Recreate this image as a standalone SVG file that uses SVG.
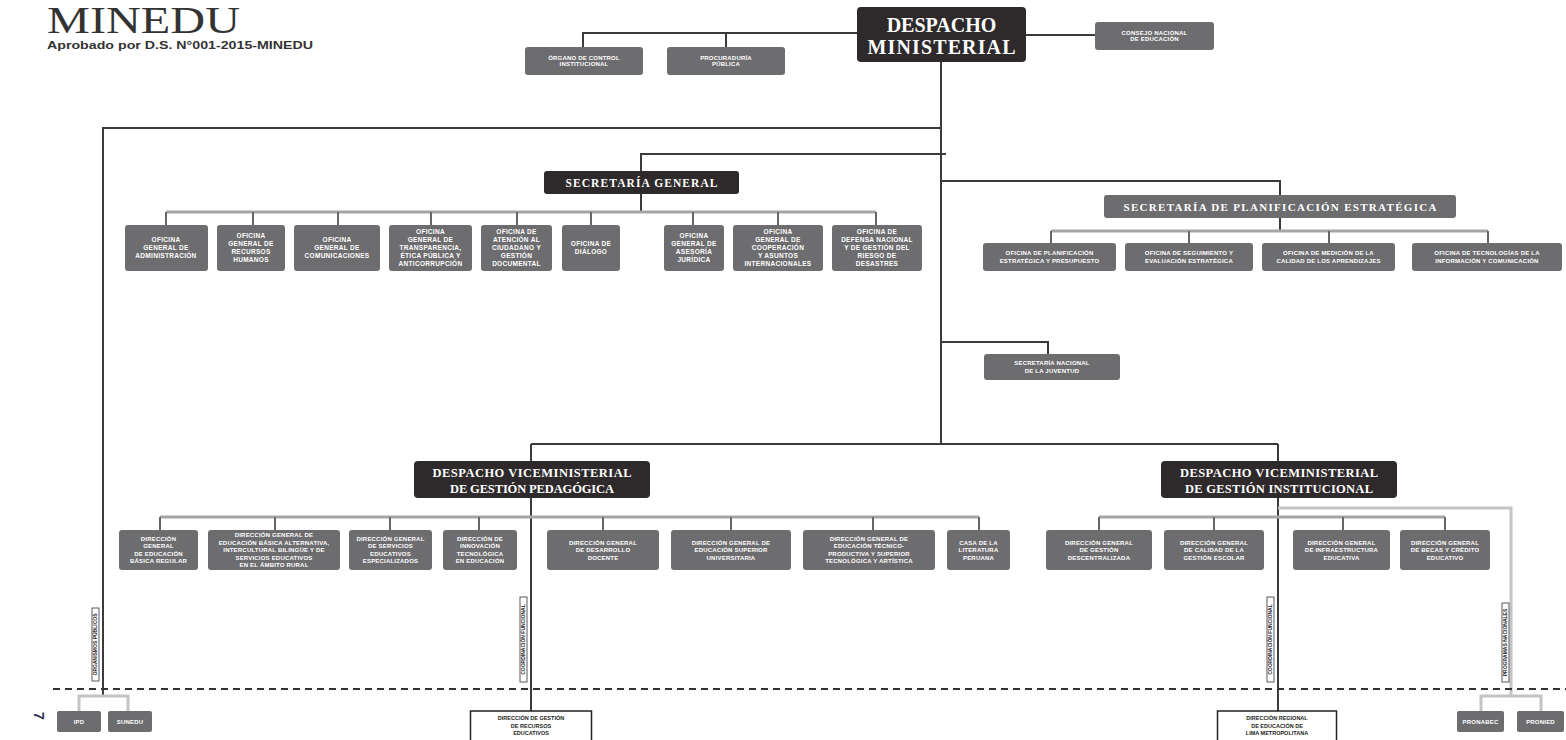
<svg xmlns="http://www.w3.org/2000/svg" width="1566" height="740" viewBox="0 0 1566 740">
<style>
.dk{fill:#2e2a2b}
.gr{fill:#6d6c6e}
.wb{fill:#fff;stroke:#222;stroke-width:1.5}
.lb{fill:#fff;stroke:#333;stroke-width:0.8}
.t{font-family:"Liberation Sans",Arial,sans-serif;font-weight:bold;fill:#fff;text-anchor:middle;font-size:6.5px;letter-spacing:0.3px}
.t6{font-size:6px;letter-spacing:0.2px}
.tb{font-family:"Liberation Sans",Arial,sans-serif;font-weight:bold;fill:#222;text-anchor:middle;font-size:5.5px}
.tv{font-family:"Liberation Sans",Arial,sans-serif;font-weight:bold;fill:#222;text-anchor:middle;font-size:5px}
.ts{font-family:"Liberation Serif","Times New Roman",serif;font-weight:bold;fill:#fff;text-anchor:middle}
.ln{stroke:#3b3b3b;stroke-width:2;fill:none}
.dr{stroke:#666;stroke-width:2;fill:none}
.bar{stroke:#a5a5a5;stroke-width:3;fill:none}
.lt{stroke:#c4c4c4;stroke-width:3;fill:none}
</style>

<g id="title">
<text x="47" y="33" font-family="'Liberation Serif','Times New Roman',serif" font-size="37" fill="#333" textLength="193" lengthAdjust="spacingAndGlyphs">MINEDU</text>
<text x="47" y="49" font-family="'Liberation Sans',Arial,sans-serif" font-weight="bold" font-size="11.5" fill="#333" textLength="266" lengthAdjust="spacingAndGlyphs">Aprobado por D.S. N°001-2015-MINEDU</text>
<text transform="translate(34 716) rotate(90)" font-family="'Liberation Sans',Arial,sans-serif" font-weight="bold" font-size="14" fill="#2c3157" text-anchor="middle">7</text>
</g>

<g id="connectors">
<path class="ln" d="M857 33 H583 V47 M726 33 V47"/>
<path class="ln" d="M1026 35 H1095"/>
<path class="ln" d="M941 62 V444"/>
<path class="ln" d="M941 128 H103 V696"/>
<path class="lt" d="M79 711 V696 H128 V711"/>
<path class="ln" d="M641 171 V154 H946"/>
<path class="ln" d="M641 194 V212"/>
<path class="bar" d="M166 212 H876"/>
<path class="dr" d="M166 212 V225 M253 212 V225 M338 212 V225 M431 212 V225 M517 212 V225 M591 212 V225 M693 212 V225 M778 212 V225 M876 212 V225"/>
<path class="ln" d="M941 181 H1280 V195"/>
<path class="ln" d="M1280 218 V231"/>
<path class="bar" d="M1051 231 H1488"/>
<path class="dr" d="M1051 231 V243 M1189 231 V243 M1329 231 V243 M1488 231 V243"/>
<path class="ln" d="M941 342 H1048 V354"/>
<path class="ln" d="M531 444 H1278 M531 444 V461 M1278 444 V461"/>
<path class="ln" d="M531 498 V711"/>
<path class="bar" d="M160 517 H979"/>
<path class="dr" d="M160 517 V530 M275 517 V530 M390 517 V530 M479 517 V530 M603 517 V530 M731 517 V530 M873 517 V530 M979 517 V530"/>
<path class="ln" d="M1278 498 V711"/>
<path class="bar" d="M1099 517 H1445"/>
<path class="dr" d="M1099 517 V530 M1214 517 V530 M1343 517 V530 M1445 517 V530"/>
<path class="lt" d="M1278 508 H1511 V696"/>
<path class="lt" d="M1481 711 V696 H1541 V711"/>
<path d="M53 689 H1566" stroke="#333" stroke-width="2" stroke-dasharray="7 5" fill="none"/>
</g>

<g id="lbl-left"><rect class="lb" x="92" y="608" width="7" height="73"/><text class="tv" transform="translate(97.3 644.5) rotate(-90)">ORGANISMOS PÚBLICOS</text></g>
<g id="lbl-vmgp"><rect class="lb" x="520" y="597" width="7" height="85"/><text class="tv" transform="translate(525.3 639.5) rotate(-90)">COORDINACIÓN FUNCIONAL</text></g>
<g id="lbl-vmgi"><rect class="lb" x="1267" y="597" width="7" height="85"/><text class="tv" transform="translate(1272.3 639.5) rotate(-90)">COORDINACIÓN FUNCIONAL</text></g>
<g id="lbl-right"><rect class="lb" x="1502" y="603" width="7" height="79"/><text class="tv" transform="translate(1507.3 642.5) rotate(-90)">PROGRAMAS NACIONALES</text></g>

<g id="dm"><rect class="dk" x="857" y="7" width="169" height="55" rx="4"/>
<text class="ts" x="941.5" y="32" font-size="20">DESPACHO</text>
<text class="ts" x="941.5" y="54" font-size="20" textLength="148">MINISTERIAL</text></g>

<g id="oci"><rect class="gr" x="525" y="47" width="118" height="28" rx="3"/>
<text class="t t6" x="584" y="59.7" font-size="5.5"><tspan x="584">ÓRGANO DE CONTROL</tspan><tspan x="584" dy="6.5">INSTITUCIONAL</tspan></text></g>
<g id="pp"><rect class="gr" x="667" y="47" width="118" height="28" rx="3"/>
<text class="t t6" x="726" y="59.7"><tspan x="726">PROCURADURÍA</tspan><tspan x="726" dy="6.5">PÚBLICA</tspan></text></g>
<g id="cne"><rect class="gr" x="1095" y="22" width="119" height="28" rx="3"/>
<text class="t t6" x="1154.5" y="34.7"><tspan x="1154.5">CONSEJO NACIONAL</tspan><tspan x="1154.5" dy="6.5">DE EDUCACIÓN</tspan></text></g>

<g id="sg"><rect class="dk" x="544" y="171" width="195" height="23" rx="3"/>
<text class="ts" x="641.5" y="186.5" font-size="11.5" textLength="152">SECRETARÍA GENERAL</text></g>

<g id="oga"><rect class="gr" x="125" y="225" width="83" height="46" rx="3"/>
<text class="t" x="166" y="242.3"><tspan x="166">OFICINA</tspan><tspan x="166" dy="8">GENERAL DE</tspan><tspan x="166" dy="8">ADMINISTRACIÓN</tspan></text></g>
<g id="ogrh"><rect class="gr" x="217" y="225" width="68" height="46" rx="3"/>
<text class="t" x="251" y="238.3"><tspan x="251">OFICINA</tspan><tspan x="251" dy="8">GENERAL DE</tspan><tspan x="251" dy="8">RECURSOS</tspan><tspan x="251" dy="8">HUMANOS</tspan></text></g>
<g id="ogc"><rect class="gr" x="294" y="225" width="86" height="46" rx="3"/>
<text class="t" x="337" y="242.3"><tspan x="337">OFICINA</tspan><tspan x="337" dy="8">GENERAL DE</tspan><tspan x="337" dy="8">COMUNICACIONES</tspan></text></g>
<g id="ogt"><rect class="gr" x="389" y="225" width="83" height="46" rx="3"/>
<text class="t" x="430.5" y="234.3" letter-spacing="0.1"><tspan x="430.5">OFICINA</tspan><tspan x="430.5" dy="8">GENERAL DE</tspan><tspan x="430.5" dy="8">TRANSPARENCIA,</tspan><tspan x="430.5" dy="8">ÉTICA PÚBLICA Y</tspan><tspan x="430.5" dy="8">ANTICORRUPCIÓN</tspan></text></g>
<g id="oac"><rect class="gr" x="481" y="225" width="71" height="46" rx="3"/>
<text class="t" x="516.5" y="234.3"><tspan x="516.5">OFICINA DE</tspan><tspan x="516.5" dy="8">ATENCIÓN AL</tspan><tspan x="516.5" dy="8">CIUDADANO Y</tspan><tspan x="516.5" dy="8">GESTIÓN</tspan><tspan x="516.5" dy="8">DOCUMENTAL</tspan></text></g>
<g id="od"><rect class="gr" x="562" y="225" width="58" height="46" rx="3"/>
<text class="t" x="591" y="246.3"><tspan x="591">OFICINA DE</tspan><tspan x="591" dy="8">DIÁLOGO</tspan></text></g>
<g id="ogaj"><rect class="gr" x="664" y="225" width="60" height="46" rx="3"/>
<text class="t" x="694" y="238.3"><tspan x="694">OFICINA</tspan><tspan x="694" dy="8">GENERAL DE</tspan><tspan x="694" dy="8">ASESORÍA</tspan><tspan x="694" dy="8">JURÍDICA</tspan></text></g>
<g id="ogcai"><rect class="gr" x="733" y="225" width="90" height="46" rx="3"/>
<text class="t" x="778" y="234.3"><tspan x="778">OFICINA</tspan><tspan x="778" dy="8">GENERAL DE</tspan><tspan x="778" dy="8">COOPERACIÓN</tspan><tspan x="778" dy="8">Y ASUNTOS</tspan><tspan x="778" dy="8">INTERNACIONALES</tspan></text></g>
<g id="odn"><rect class="gr" x="832" y="225" width="90" height="46" rx="3"/>
<text class="t" x="877" y="234.3" letter-spacing="0.1"><tspan x="877">OFICINA DE</tspan><tspan x="877" dy="8">DEFENSA NACIONAL</tspan><tspan x="877" dy="8">Y DE GESTIÓN DEL</tspan><tspan x="877" dy="8">RIESGO DE</tspan><tspan x="877" dy="8">DESASTRES</tspan></text></g>

<g id="spe"><rect class="gr" x="1104" y="195" width="352" height="23" rx="3"/>
<text class="ts" x="1280" y="210.5" font-size="11" textLength="313">SECRETARÍA DE PLANIFICACIÓN ESTRATÉGICA</text></g>
<g id="opep"><rect class="gr" x="983" y="243" width="133" height="28" rx="3"/>
<text class="t t6" x="1049.5" y="255.4"><tspan x="1049.5">OFICINA DE PLANIFICACIÓN</tspan><tspan x="1049.5" dy="7.5">ESTRATÉGICA Y PRESUPUESTO</tspan></text></g>
<g id="osee"><rect class="gr" x="1125" y="243" width="128" height="28" rx="3"/>
<text class="t t6" x="1189" y="255.4"><tspan x="1189">OFICINA DE SEGUIMIENTO Y</tspan><tspan x="1189" dy="7.5">EVALUACIÓN ESTRATÉGICA</tspan></text></g>
<g id="omca"><rect class="gr" x="1262" y="243" width="133" height="28" rx="3"/>
<text class="t t6" x="1328.5" y="255.4"><tspan x="1328.5">OFICINA DE MEDICIÓN DE LA</tspan><tspan x="1328.5" dy="7.5">CALIDAD DE LOS APRENDIZAJES</tspan></text></g>
<g id="otic"><rect class="gr" x="1412" y="243" width="150" height="28" rx="3"/>
<text class="t t6" x="1487" y="255.4"><tspan x="1487">OFICINA DE TECNOLOGÍAS DE LA</tspan><tspan x="1487" dy="7.5">INFORMACIÓN Y COMUNICACIÓN</tspan></text></g>

<g id="snj"><rect class="gr" x="984" y="354" width="136" height="26" rx="3"/>
<text class="t t6" x="1052" y="365.4"><tspan x="1052">SECRETARÍA NACIONAL</tspan><tspan x="1052" dy="7.5">DE LA JUVENTUD</tspan></text></g>

<g id="vmgp"><rect class="dk" x="414" y="461" width="236" height="37" rx="4"/>
<text class="ts" x="532" y="477" font-size="12.5" textLength="199">DESPACHO VICEMINISTERIAL</text>
<text class="ts" x="532" y="492.5" font-size="12.5" textLength="164">DE GESTIÓN PEDAGÓGICA</text></g>
<g id="vmgi"><rect class="dk" x="1161" y="461" width="236" height="37" rx="4"/>
<text class="ts" x="1279" y="477" font-size="12.5" textLength="198">DESPACHO VICEMINISTERIAL</text>
<text class="ts" x="1279" y="492.5" font-size="12.5" textLength="188">DE GESTIÓN INSTITUCIONAL</text></g>

<g id="digebr"><rect class="gr" x="119" y="530" width="79" height="40" rx="3"/>
<text class="t t6" x="158.5" y="540.9"><tspan x="158.5">DIRECCIÓN</tspan><tspan x="158.5" dy="7.5">GENERAL</tspan><tspan x="158.5" dy="7.5">DE EDUCACIÓN</tspan><tspan x="158.5" dy="7.5">BÁSICA REGULAR</tspan></text></g>
<g id="digeibira"><rect class="gr" x="208" y="530" width="132" height="40" rx="3"/>
<text class="t t6" x="274" y="537.1" font-size="5.6" letter-spacing="0"><tspan x="274">DIRECCIÓN GENERAL DE</tspan><tspan x="274" dy="7.5">EDUCACIÓN BÁSICA ALTERNATIVA,</tspan><tspan x="274" dy="7.5">INTERCULTURAL BILINGÜE Y DE</tspan><tspan x="274" dy="7.5">SERVICIOS EDUCATIVOS</tspan><tspan x="274" dy="7.5">EN EL ÁMBITO RURAL</tspan></text></g>
<g id="digese"><rect class="gr" x="349" y="530" width="83" height="40" rx="3"/>
<text class="t t6" x="390.5" y="540.9"><tspan x="390.5">DIRECCIÓN GENERAL</tspan><tspan x="390.5" dy="7.5">DE SERVICIOS</tspan><tspan x="390.5" dy="7.5">EDUCATIVOS</tspan><tspan x="390.5" dy="7.5">ESPECIALIZADOS</tspan></text></g>
<g id="dite"><rect class="gr" x="443" y="530" width="74" height="40" rx="3"/>
<text class="t t6" x="480" y="540.9"><tspan x="480">DIRECCIÓN DE</tspan><tspan x="480" dy="7.5">INNOVACIÓN</tspan><tspan x="480" dy="7.5">TECNOLÓGICA</tspan><tspan x="480" dy="7.5">EN EDUCACIÓN</tspan></text></g>
<g id="digedd"><rect class="gr" x="547" y="530" width="112" height="40" rx="3"/>
<text class="t t6" x="603" y="544.6"><tspan x="603">DIRECCIÓN GENERAL</tspan><tspan x="603" dy="7.5">DE DESARROLLO</tspan><tspan x="603" dy="7.5">DOCENTE</tspan></text></g>
<g id="digesu"><rect class="gr" x="671" y="530" width="120" height="40" rx="3"/>
<text class="t t6" x="731" y="544.6"><tspan x="731">DIRECCIÓN GENERAL DE</tspan><tspan x="731" dy="7.5">EDUCACIÓN SUPERIOR</tspan><tspan x="731" dy="7.5">UNIVERSITARIA</tspan></text></g>
<g id="digesutpa"><rect class="gr" x="803" y="530" width="132" height="40" rx="3"/>
<text class="t t6" x="869" y="540.9"><tspan x="869">DIRECCIÓN GENERAL DE</tspan><tspan x="869" dy="7.5">EDUCACIÓN TÉCNICO-</tspan><tspan x="869" dy="7.5">PRODUCTIVA Y SUPERIOR</tspan><tspan x="869" dy="7.5">TECNOLÓGICA Y ARTÍSTICA</tspan></text></g>
<g id="clp"><rect class="gr" x="947" y="530" width="63" height="40" rx="3"/>
<text class="t t6" x="978.5" y="544.6"><tspan x="978.5">CASA DE LA</tspan><tspan x="978.5" dy="7.5">LITERATURA</tspan><tspan x="978.5" dy="7.5">PERUANA</tspan></text></g>

<g id="diged"><rect class="gr" x="1046" y="530" width="106" height="40" rx="3"/>
<text class="t t6" x="1099" y="544.6"><tspan x="1099">DIRECCIÓN GENERAL</tspan><tspan x="1099" dy="7.5">DE GESTIÓN</tspan><tspan x="1099" dy="7.5">DESCENTRALIZADA</tspan></text></g>
<g id="digc"><rect class="gr" x="1164" y="530" width="100" height="40" rx="3"/>
<text class="t t6" x="1214" y="544.6"><tspan x="1214">DIRECCIÓN GENERAL</tspan><tspan x="1214" dy="7.5">DE CALIDAD DE LA</tspan><tspan x="1214" dy="7.5">GESTIÓN ESCOLAR</tspan></text></g>
<g id="digie"><rect class="gr" x="1293" y="530" width="97" height="40" rx="3"/>
<text class="t t6" x="1341.5" y="544.6"><tspan x="1341.5">DIRECCIÓN GENERAL</tspan><tspan x="1341.5" dy="7.5">DE INFRAESTRUCTURA</tspan><tspan x="1341.5" dy="7.5">EDUCATIVA</tspan></text></g>
<g id="digbce"><rect class="gr" x="1400" y="530" width="90" height="40" rx="3"/>
<text class="t t6" x="1445" y="544.6"><tspan x="1445">DIRECCIÓN GENERAL</tspan><tspan x="1445" dy="7.5">DE BECAS Y CRÉDITO</tspan><tspan x="1445" dy="7.5">EDUCATIVO</tspan></text></g>

<g id="ipd"><rect class="gr" x="57" y="711" width="44" height="21" rx="2"/><text class="t t6" x="79" y="723.5" font-size="5.5">IPD</text></g>
<g id="sunedu"><rect class="gr" x="108" y="711" width="44" height="21" rx="2"/><text class="t t6" x="130" y="723.5" font-size="5.5">SUNEDU</text></g>
<g id="pronabec"><rect class="gr" x="1457" y="711" width="47" height="21" rx="2"/><text class="t t6" x="1480.5" y="723.5" font-size="5.5">PRONABEC</text></g>
<g id="pronied"><rect class="gr" x="1517" y="711" width="47" height="21" rx="2"/><text class="t t6" x="1540.5" y="723.5" font-size="5.5">PRONIED</text></g>

<g id="digere"><rect class="wb" x="470.5" y="711" width="121" height="32"/>
<text class="tb" x="531" y="720"><tspan x="531">DIRECCIÓN DE GESTIÓN</tspan><tspan x="531" dy="7.5">DE RECURSOS</tspan><tspan x="531" dy="7.5">EDUCATIVOS</tspan></text></g>
<g id="drelm"><rect class="wb" x="1217.5" y="711" width="119" height="32"/>
<text class="tb" x="1277" y="720"><tspan x="1277">DIRECCIÓN REGIONAL</tspan><tspan x="1277" dy="7.5">DE EDUCACIÓN DE</tspan><tspan x="1277" dy="7.5">LIMA METROPOLITANA</tspan></text></g>
</svg>
